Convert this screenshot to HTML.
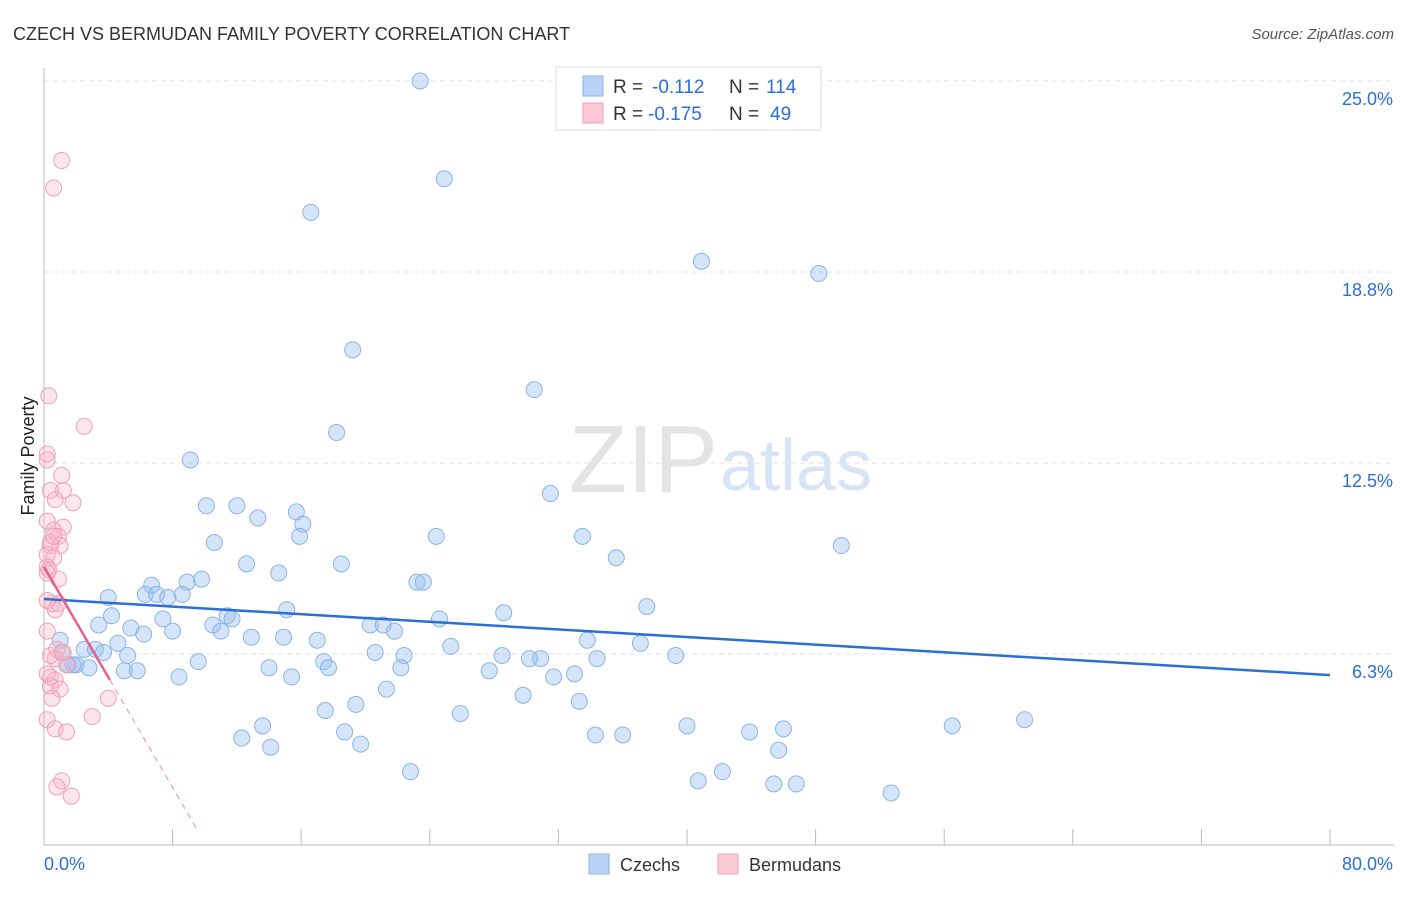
<!DOCTYPE html>
<html><head><meta charset="utf-8"><style>
body{margin:0;background:#fff;font-family:"Liberation Sans",sans-serif;}
svg text{font-family:"Liberation Sans",sans-serif;}
</style></head><body>
<svg id="chart" width="1406" height="892" xmlns="http://www.w3.org/2000/svg">
<text x="13" y="40" font-size="18" fill="#333">CZECH VS BERMUDAN FAMILY POVERTY CORRELATION CHART</text>
<text x="1394" y="39" font-size="15" fill="#555" font-style="italic" text-anchor="end">Source: ZipAtlas.com</text>
<text x="718" y="492" font-size="96" fill="#e4e4e4" text-anchor="end" font-family="Liberation Serif">ZIP</text>
<text x="720" y="490" font-size="72" fill="#d6e4f5">atlas</text>
<text x="34" y="456" font-size="18" fill="#222" transform="rotate(-90 34 456)" text-anchor="middle">Family Poverty</text>
<g id="grid"></g><g id="axes"></g><g id="marks"></g>
<g>
<rect x="556" y="67" width="265" height="63" fill="#fff" stroke="#ddd"/>
<rect x="583" y="76" width="20" height="20" fill="#b8d3f5" stroke="#8ab4e8"/>
<rect x="583" y="103" width="20" height="20" fill="#fbc8d6" stroke="#f0a0b8"/>
<text x="613" y="93" font-size="19" fill="#333">R =</text>
<text x="652" y="93" font-size="19" fill="#2a6fd6">-0.112</text>
<text x="729" y="93" font-size="19" fill="#333">N =</text>
<text x="766" y="93" font-size="19" fill="#2a6fd6">114</text>
<text x="613" y="120" font-size="19" fill="#333">R =</text>
<text x="648" y="120" font-size="19" fill="#2a6fd6">-0.175</text>
<text x="729" y="120" font-size="19" fill="#333">N =</text>
<text x="770" y="120" font-size="19" fill="#2a6fd6">49</text>
</g>
<g>
<rect x="589" y="854" width="20" height="20" fill="#b8d3f5" stroke="#8ab4e8"/>
<text x="620" y="871" font-size="18" fill="#333">Czechs</text>
<rect x="718" y="854" width="20" height="20" fill="#fbc8d6" stroke="#f0a0b8"/>
<text x="749" y="871" font-size="18" fill="#333">Bermudans</text>
</g>
</svg>
<script>
const yTicks=[6.25,12.5,18.75,25];
const yTickLabels=["6.3%","12.5%","18.8%","25.0%"];
const xTicks=[0,8,16,24,32,40,48,56,64,72,80];
const czechX=[23.4,24.9,16.6,40.9,48.2,19.2,30.5,18.2,9.1,31.5,10.1,12.0,13.3,15.7,16.1,24.4,15.9,33.5,49.6,10.6,35.6,18.5,12.6,14.6,6.7,8.9,9.8,23.2,23.6,6.3,7.0,7.7,8.6,4.0,15.1,28.6,37.5,4.2,7.4,11.4,11.7,24.6,10.5,3.4,5.4,20.3,21.1,21.8,8.0,6.2,11.0,12.9,14.9,17.0,33.8,37.1,25.3,1.0,4.6,2.5,3.2,1.1,3.7,5.2,20.6,22.4,28.5,30.2,30.9,34.4,39.3,17.4,9.6,1.5,2.0,2.8,1.8,14.0,17.7,22.2,27.7,5.0,5.8,33.0,31.7,8.4,15.4,21.3,29.8,33.3,19.4,17.5,25.9,13.6,40.0,56.5,61.0,46.0,43.9,18.7,34.3,36.0,12.3,19.7,14.1,45.7,22.8,42.2,40.7,45.4,46.8,52.7];
const czechY=[25.0,21.8,20.7,19.1,18.7,16.2,14.9,13.5,12.6,11.5,11.1,11.1,10.7,10.9,10.5,10.1,10.1,10.1,9.8,9.9,9.4,9.2,9.2,8.9,8.5,8.6,8.7,8.6,8.6,8.2,8.2,8.1,8.2,8.1,7.7,7.6,7.8,7.5,7.4,7.5,7.4,7.4,7.2,7.2,7.1,7.2,7.2,7.0,7.0,6.9,7.0,6.8,6.8,6.7,6.7,6.6,6.5,6.7,6.6,6.4,6.4,6.3,6.3,6.2,6.3,6.2,6.2,6.1,6.1,6.1,6.2,6.0,6.0,5.9,5.9,5.8,5.9,5.8,5.8,5.8,5.7,5.7,5.7,5.6,5.5,5.5,5.5,5.1,4.9,4.7,4.6,4.4,4.3,3.9,3.9,3.9,4.1,3.8,3.7,3.7,3.6,3.6,3.5,3.3,3.2,3.1,2.4,2.4,2.1,2.0,2.0,1.7];
const bermX=[1.1,0.6,0.3,2.5,0.2,0.2,1.1,0.4,1.2,0.7,1.8,0.2,1.2,0.6,0.9,0.4,1.0,0.2,0.6,0.2,0.3,0.9,0.5,0.9,0.2,0.7,1.4,0.4,0.7,0.4,1.0,0.5,4.0,3.0,0.2,0.7,1.4,1.1,0.8,1.7,0.4,0.2,0.6,0.7,0.4,1.2,0.2,0.2,0.8];
const bermY=[22.4,21.5,14.7,13.7,12.8,12.6,12.1,11.6,11.6,11.3,11.2,10.6,10.4,10.3,10.1,9.8,9.8,9.5,9.4,9.1,9.0,8.7,7.9,7.9,7.0,6.1,5.9,5.5,5.4,5.2,5.1,4.8,4.8,4.2,4.1,3.8,3.7,2.1,1.9,1.6,9.9,8.9,10.1,7.7,6.2,6.3,5.6,8.0,6.4];
const czechTrend=[8.05,5.56];
const bermTrend=[9.1,5.4,4.1,9.6];
const X0=44,X1=1330,YB=845,PPU=30.56;
const sx=v=>X0+v/80*(X1-X0);
const sy=v=>YB-v*PPU;
const NS="http://www.w3.org/2000/svg";
function mk(tag,attrs,parent){const e=document.createElementNS(NS,tag);for(const k in attrs)e.setAttribute(k,attrs[k]);document.getElementById(parent).appendChild(e);return e;}
yTicks.forEach((t,i)=>{
 const g=mk('line',{x1:X0,x2:1394,y1:sy(t),y2:sy(t),stroke:'#e3e3e3','stroke-dasharray':'5,4'},'grid');
 
 
 const l=mk('text',{x:1393,y:sy(t)+24,'font-size':18,fill:'#2a6fd6','text-anchor':'end'},'axes');
 l.textContent=yTickLabels[i];
 
 
});
const ax=mk('line',{x1:X0,x2:1394,y1:YB,y2:YB,stroke:'#bbb'},'axes');


const ay=mk('line',{x1:X0,x2:X0,y1:68,y2:YB,stroke:'#bbb'},'axes');


xTicks.forEach(t=>{
 const tk=mk('line',{x1:sx(t),x2:sx(t),y1:829,y2:YB,stroke:'#bbb'},'axes');
 
 
});
const xl0=mk('text',{x:44,y:870,'font-size':18,fill:'#2a6fd6'},'axes');xl0.textContent='0.0%';


const xl1=mk('text',{x:1393,y:870,'font-size':18,fill:'#2a6fd6','text-anchor':'end'},'axes');xl1.textContent='80.0%';


czechX.forEach((x,i)=>{
 const c=mk('circle',{cx:sx(x),cy:sy(czechY[i]),r:8,fill:'rgba(150,190,240,0.4)',stroke:'#8ab4e8','stroke-width':1},'marks');
 
 
});
bermX.forEach((x,i)=>{
 const c=mk('circle',{cx:sx(x),cy:sy(bermY[i]),r:8,fill:'rgba(248,180,200,0.35)',stroke:'#f0a0b8','stroke-width':1},'marks');
 
 
});
const tl=mk('line',{x1:sx(0),y1:sy(czechTrend[0]),x2:sx(80),y2:sy(czechTrend[1]),stroke:'#2a6fd6','stroke-width':2.5},'marks');


const slope=(bermTrend[1]-bermTrend[0])/bermTrend[2];
const pl=mk('line',{x1:sx(0),y1:sy(bermTrend[0]),x2:sx(bermTrend[2]),y2:sy(bermTrend[1]),stroke:'#e8608a','stroke-width':2.5},'marks');


const pd=mk('line',{x1:sx(bermTrend[2]),y1:sy(bermTrend[1]),x2:sx(bermTrend[3]),y2:sy(bermTrend[0]+slope*bermTrend[3]),stroke:'#e8a0b8','stroke-width':1.2,'stroke-dasharray':'6,5'},'marks');


</script>
</body></html>
